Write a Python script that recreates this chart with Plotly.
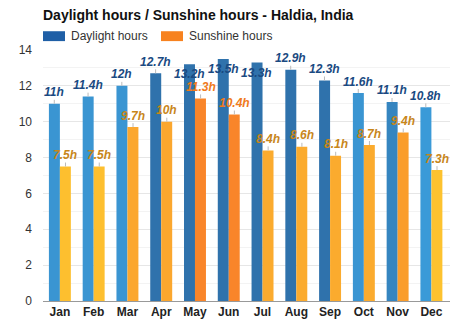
import plotly.graph_objects as go

months = ["Jan", "Feb", "Mar", "Apr", "May", "Jun", "Jul", "Aug", "Sep", "Oct", "Nov", "Dec"]
daylight = [11.0, 11.4, 12.0, 12.7, 13.2, 13.5, 13.3, 12.9, 12.3, 11.6, 11.1, 10.8]
sunshine = [7.5, 7.5, 9.7, 10.0, 11.3, 10.4, 8.4, 8.6, 8.1, 8.7, 9.4, 7.3]
daylight_labels = ["11h", "11.4h", "12h", "12.7h", "13.2h", "13.5h", "13.3h", "12.9h", "12.3h", "11.6h", "11.1h", "10.8h"]
sunshine_labels = ["7.5h", "7.5h", "9.7h", "10h", "11.3h", "10.4h", "8.4h", "8.6h", "8.1h", "8.7h", "9.4h", "7.3h"]
y_ticks = [0, 2, 4, 6, 8, 10, 12, 14]

day_colors = ["#3a95d2", "#3a95d2", "#3a95d2", "#2f72ac", "#2f72ac", "#2f72ac",
              "#2f72ac", "#2f72ac", "#2f72ac", "#3a95d2", "#3585c0", "#3a9ad8"]
sun_colors = ["#fdbf2f", "#fdbf2f", "#fba72e", "#fba72e", "#f9852a", "#f9852a",
              "#fbab2e", "#fbab2e", "#fbab2e", "#fbab2e", "#fa9d2b", "#fdc22f"]
sun_label_colors = ["#c8861a", "#c8861a", "#c8861a", "#c8861a", "#f07a20", "#f07a20",
                    "#c8861a", "#c8861a", "#c8861a", "#c8861a", "#c8861a", "#c8861a"]
DAY_LABEL = "#1a4a82"
FONT = "Liberation Sans, Arial, sans-serif"

W, H = 474, 331
L, R, T, B = 43, 24, 50, 27
pw, ph = W - L - R, H - T - B
Y_MAX = 14

fig = go.Figure()
fig.add_trace(go.Bar(x=months, y=daylight, marker=dict(color=day_colors, line=dict(width=0)),
                     name="Daylight hours", showlegend=False, hoverinfo="skip"))
fig.add_trace(go.Bar(x=months, y=sunshine, marker=dict(color=sun_colors, line=dict(width=0)),
                     name="Sunshine hours", showlegend=False, hoverinfo="skip"))

annotations = []
shift = 5.6
px_per_unit = ph / Y_MAX


def label(m, v, t, color, xs):
    # labels that would run above the plot top are moved inside the bar (no leader line)
    top_px = (Y_MAX - v) * px_per_unit
    if top_px < 17:
        return dict(x=m, y=v, xref="x", yref="y", text=f"<b><i>{t}</i></b>",
                    xshift=xs, yshift=-10, showarrow=False, yanchor="middle",
                    font=dict(family=FONT, size=12, color=color))
    return dict(x=m, y=v, xref="x", yref="y", text=f"<b><i>{t}</i></b>",
                xshift=xs, showarrow=True, arrowhead=0, arrowwidth=1,
                arrowcolor="#bbbbbb", ax=0, ay=-11.5, standoff=0, borderpad=0,
                font=dict(family=FONT, size=12, color=color))


for m, v, t in zip(months, daylight, daylight_labels):
    annotations.append(label(m, v, t, DAY_LABEL, -shift))
for m, v, t, c in zip(months, sunshine, sunshine_labels, sun_label_colors):
    annotations.append(label(m, v, t, c, shift))


def px_x(x):
    return (x - L) / pw


def px_y(y):
    return (H - B - y) / ph


# legend
annotations.append(dict(x=px_x(69), y=px_y(36), xref="paper", yref="paper", text="Daylight hours",
                        showarrow=False, xanchor="left", yanchor="middle",
                        font=dict(family=FONT, size=12, color="#333333")))
annotations.append(dict(x=px_x(187), y=px_y(36), xref="paper", yref="paper", text="Sunshine hours",
                        showarrow=False, xanchor="left", yanchor="middle",
                        font=dict(family=FONT, size=12, color="#333333")))

shapes = [
    dict(type="rect", xref="paper", yref="paper", x0=px_x(43), x1=px_x(65), y0=px_y(41), y1=px_y(31),
         fillcolor="#1f5fa6", line=dict(width=0)),
    dict(type="rect", xref="paper", yref="paper", x0=px_x(161), x1=px_x(183), y0=px_y(41), y1=px_y(31),
         fillcolor="#f7821f", line=dict(width=0)),
]

fig.update_layout(
    width=W, height=H,
    margin=dict(l=L, r=R, t=T, b=B),
    paper_bgcolor="white", plot_bgcolor="white",
    barmode="group", bargap=0.35, bargroupgap=0,
    title=dict(text="<b>Daylight hours / Sunshine hours - Haldia, India</b>",
               x=43 / W, xanchor="left", xref="container",
               y=1 - 15 / H, yanchor="middle", yref="container",
               font=dict(family=FONT, size=14, color="#111111")),
    annotations=annotations,
    shapes=shapes,
    xaxis=dict(type="category", showgrid=False, showline=True, linecolor="#999999", linewidth=1,
               ticks="", tickfont=dict(family=FONT, size=12, color="#222222", weight="bold"),
               fixedrange=True),
    yaxis=dict(range=[0, Y_MAX], tickvals=y_ticks, showgrid=True, gridcolor="#e6e6e6", gridwidth=1,
               minor=dict(dtick=1, showgrid=True, gridcolor="#f3f3f3"),
               zeroline=False, ticks="", ticklabelstandoff=10,
               tickfont=dict(family=FONT, size=12, color="#333333"), fixedrange=True),
    font=dict(family=FONT),
)

fig.write_html("out.html")
